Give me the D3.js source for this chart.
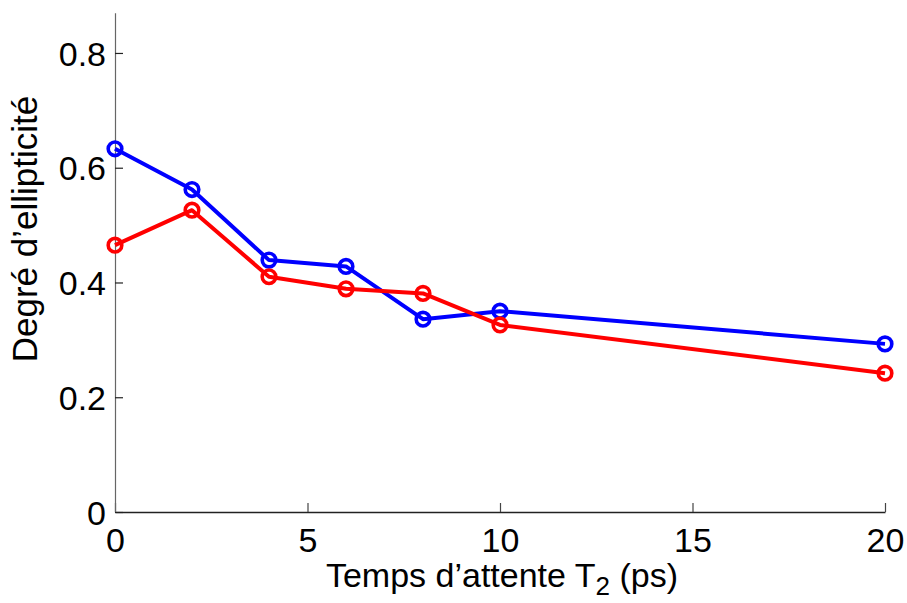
<!DOCTYPE html>
<html>
<head>
<meta charset="utf-8">
<script src="https://cdn.jsdelivr.net/npm/d3@7/dist/d3.min.js"></script>
<style>
  html, body { margin: 0; padding: 0; background: #fff; }
  text { font-family: Arial, "Liberation Sans", sans-serif; fill: #000; }
</style>
</head>
<body>
<svg id="chart" width="907" height="603"></svg>
<script>
// Data
const xValues = [0, 2, 4, 6, 8, 10, 20];
const blueValues = [0.633, 0.562, 0.439, 0.428, 0.336, 0.350, 0.293];
const redValues  = [0.465, 0.526, 0.410, 0.389, 0.381, 0.326, 0.242];
const xTicks = [0, 5, 10, 15, 20];
const yTicks = [0, 0.2, 0.4, 0.6, 0.8];
const yTickLabels = ["0", "0.2", "0.4", "0.6", "0.8"];
const xLabel = "Temps d\u2019attente T";
const xLabelSub = "2";
const xLabelTail = " (ps)";
const yLabel = "Degr\u00e9 d\u2019ellipticit\u00e9";

const svg = d3.select("#chart");
const plotLeft = 115, plotRight = 885, plotTop = 12.8, plotBottom = 512;
const fs = 34;

const x = d3.scaleLinear().domain([0, 20]).range([plotLeft, plotRight]);
const y = d3.scaleLinear().domain([0, 0.87]).range([plotBottom, plotTop]);

// Axes
const xAxis = svg.append("g").attr("transform", `translate(0,${plotBottom})`)
  .call(d3.axisBottom(x).tickValues(xTicks).tickSizeInner(-9).tickSizeOuter(0).tickPadding(0).tickFormat(d3.format("d")));
xAxis.select(".domain").attr("stroke", "#222").attr("stroke-width", 1.5);
xAxis.selectAll(".tick line").attr("stroke", "#444").attr("stroke-width", 1.2);
xAxis.selectAll(".tick text").attr("font-size", fs).attr("dy", null).attr("y", 40)
  .attr("font-family", "Arial, 'Liberation Sans', sans-serif").attr("fill", "#000");

const yAxis = svg.append("g").attr("transform", `translate(${plotLeft},0)`)
  .call(d3.axisLeft(y).tickValues(yTicks).tickSizeInner(-8).tickSizeOuter(0).tickPadding(0)
    .tickFormat((d, i) => yTickLabels[i]));
yAxis.select(".domain").attr("stroke", "#666").attr("stroke-width", 1.2);
yAxis.selectAll(".tick line").attr("stroke", "#222").attr("stroke-width", 1.2);
yAxis.selectAll(".tick text").attr("font-size", fs).attr("x", -9).attr("dy", "0.36em")
  .attr("font-family", "Arial, 'Liberation Sans', sans-serif").attr("fill", "#000");

// Series
const series = [
  { values: blueValues, color: "#0000ff" },
  { values: redValues, color: "#ff0000" }
];
const line = d3.line().x(d => x(d[0])).y(d => y(d[1]));
series.forEach(s => {
  const pts = xValues.map((xv, i) => [xv, s.values[i]]);
  const g = svg.append("g");
  g.append("path").datum(pts).attr("d", line)
    .attr("fill", "none").attr("stroke", s.color).attr("stroke-width", 4)
    .attr("stroke-linejoin", "round");
  g.selectAll("circle").data(pts).join("circle")
    .attr("cx", d => x(d[0])).attr("cy", d => y(d[1])).attr("r", 6.8)
    .attr("fill", "none").attr("stroke", s.color).attr("stroke-width", 3.6);
});

// X label
const xl = svg.append("text").attr("x", 502).attr("y", 587).attr("text-anchor", "middle")
  .attr("font-size", fs);
xl.append("tspan").text(xLabel);
xl.append("tspan").attr("font-size", 26).attr("dy", 8).text(xLabelSub);
xl.append("tspan").attr("dy", -8).text(xLabelTail);

// Y label
svg.append("text").attr("transform", "translate(37,229) rotate(-90)")
  .attr("text-anchor", "middle").attr("font-size", 35).text(yLabel);
</script>
</body>
</html>
